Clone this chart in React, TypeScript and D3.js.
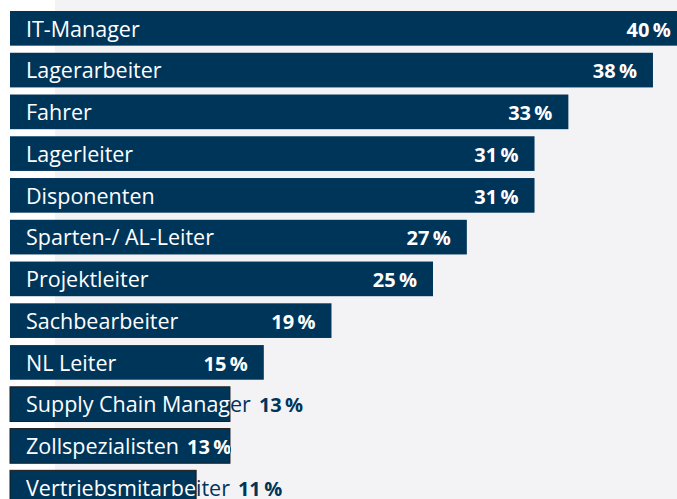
import React, { useEffect, useRef } from 'react';
import * as d3 from 'd3';

const categories = [
  'IT-Manager',
  'Lagerarbeiter',
  'Fahrer',
  'Lagerleiter',
  'Disponenten',
  'Sparten-/ AL-Leiter',
  'Projektleiter',
  'Sachbearbeiter',
  'NL Leiter',
  'Supply Chain Manager',
  'Zollspezialisten',
  'Vertriebsmitarbeiter',
];
const values = [40, 38, 33, 31, 31, 27, 25, 19, 15, 13, 13, 11];
const valueSuffix = '\u2009%';

const W = 677;
const H = 499;
const BAR = '#00355a';
const BG = '#f3f3f6';
const FONT = "'Open Sans', sans-serif";
const LABEL_SIZE = 21.5;
const VALUE_SIZE = 20;

export default function App() {
  const ref = useRef<SVGSVGElement>(null);

  useEffect(() => {
    const draw = () => {
      const svg = d3.select(ref.current);
      svg.selectAll('*').remove();

      const x = d3.scaleLinear().domain([0, 40]).range([10, 686.8]);
      const y = d3
        .scaleBand<string>()
        .domain(categories)
        .range([11, 505])
        .paddingInner(0.17)
        .paddingOuter(0);
      const bw = y.bandwidth();

      svg.append('rect').attr('x', 55).attr('y', 0).attr('width', W - 55).attr('height', H).attr('fill', BG);

      const defs = svg.append('defs');
      const data = categories.map((c, i) => ({ c, v: values[i], i }));

      data.forEach((d) => {
        const g = svg.append('g');
        const y0 = y(d.c)!;
        const x1 = x(d.v);
        const base = y0 + bw / 2 + 8.2;

        const mLabel = g
          .append('text')
          .attr('font-family', FONT)
          .attr('font-size', LABEL_SIZE)
          .text(d.c);
        const labelW = (mLabel.node() as SVGTextElement).getComputedTextLength();
        mLabel.remove();
        const mVal = g
          .append('text')
          .attr('font-family', FONT)
          .attr('font-size', VALUE_SIZE)
          .attr('font-weight', 700)
          .text(d.v + valueSuffix);
        const valW = (mVal.node() as SVGTextElement).getComputedTextLength();
        mVal.remove();

        const labelX = 26;
        let valX = x1 - 16 - valW;
        const minValX = labelX + labelW + 8;
        const overflow = valX < minValX;
        if (overflow) valX = minValX;

        const rect = g
          .append('rect')
          .attr('x', x(0))
          .attr('y', y0)
          .attr('width', x1 - x(0))
          .attr('height', bw)
          .attr('fill', BAR);
        if (overflow) rect.attr('stroke', '#1c1c1c').attr('stroke-width', 1);

        const id = 'clip' + d.i;
        defs
          .append('clipPath')
          .attr('id', id)
          .append('rect')
          .attr('x', x(0))
          .attr('y', y0)
          .attr('width', x1 - x(0))
          .attr('height', bw);

        const addTexts = (fill: string, clip: boolean) => {
          const tg = g.append('g');
          if (clip) tg.attr('clip-path', `url(#${id})`);
          tg.append('text')
            .attr('x', labelX)
            .attr('y', base)
            .attr('font-family', FONT)
            .attr('font-size', LABEL_SIZE)
            .attr('fill', fill)
            .text(d.c);
          tg.append('text')
            .attr('x', valX)
            .attr('y', base)
            .attr('font-family', FONT)
            .attr('font-size', VALUE_SIZE)
            .attr('font-weight', 700)
            .attr('fill', fill)
            .text(d.v + valueSuffix);
        };
        addTexts(BAR, false);
        addTexts('#ffffff', true);
      });
    };
    if ((document as any).fonts && (document as any).fonts.ready) {
      (document as any).fonts.ready.then(draw);
    } else draw();
  }, []);

  return (
    <svg
      ref={ref}
      width={W}
      height={H}
      style={{ position: 'absolute', left: 0, top: 0, display: 'block', background: '#ffffff' }}
    />
  );
}
